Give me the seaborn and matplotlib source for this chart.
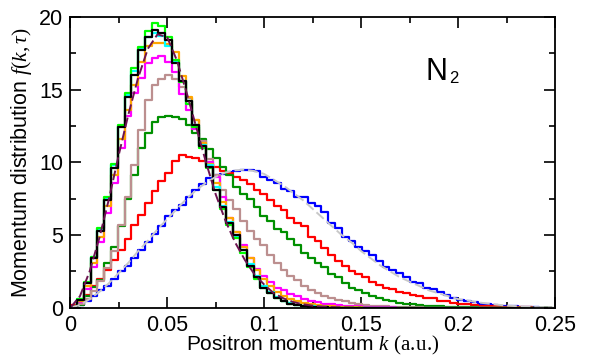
import numpy as np
import pandas as pd
import matplotlib
matplotlib.use("Agg")
import matplotlib.pyplot as plt
import seaborn as sns

# bin width of the momentum histograms (a.u.)
bin_width = 0.0035
n_bins = 71

# histogram heights per bin (trailing zeros omitted)
blue = [0.05, 0.2, 0.45, 0.8, 1.2, 1.5, 2.0, 2.5, 2.9, 3.4,
        4.0, 4.5, 5.1, 5.6, 6.3, 6.7, 7.1, 7.6, 8.1, 8.5,
        8.9, 9.1, 9.2, 9.35, 9.4, 9.5, 9.45, 9.4, 9.0, 8.8,
        8.6, 8.2, 8.0, 7.6, 7.6, 7.2, 7.0, 6.6, 5.8, 5.5,
        4.9, 4.6, 4.2, 3.9, 3.6, 3.2, 2.8, 2.6, 2.4, 2.1,
        1.8, 1.7, 1.4, 1.3, 1.1, 0.9, 0.7, 0.55, 0.45, 0.4,
        0.3, 0.3, 0.2, 0.15, 0.15, 0.1, 0.07, 0.05, 0.04, 0.02, 0.01]
red = [0.2, 0.5, 0.9, 1.5, 2.0, 2.6, 3.3, 4.0, 4.7, 5.7,
       6.4, 7.2, 8.0, 8.7, 9.3, 10.1, 10.5, 10.4, 10.3, 10.1,
       9.9, 9.7, 9.4, 9.3, 9.0, 8.8, 8.5, 8.1, 7.8, 7.4,
       7.0, 6.7, 6.2, 5.8, 5.6, 4.9, 4.6, 4.1, 3.6, 3.2,
       2.9, 2.5, 2.3, 2.1, 1.8, 1.6, 1.4, 1.3, 1.1, 1.0,
       0.9, 0.8, 0.7, 0.65, 0.5, 0.45, 0.35, 0.3, 0.25, 0.2,
       0.15, 0.12, 0.1, 0.08, 0.06, 0.05, 0.04, 0.03, 0.02, 0.01]
green = [0.05, 0.2, 0.8, 1.45, 1.9, 3.1, 4.2, 5.6, 7.5, 9.1,
         11.0, 12.0, 12.8, 13.1, 13.2, 13.1, 13.0, 12.6, 12.0, 11.6,
         10.9, 10.3, 9.7, 9.1, 8.3, 7.8, 7.5, 6.9, 6.3, 6.0,
         5.4, 5.2, 4.7, 4.3, 3.8, 3.4, 3.1, 2.8, 2.3, 2.1,
         1.7, 1.4, 1.2, 1.0, 0.8, 0.7, 0.55, 0.45, 0.35, 0.3,
         0.25, 0.2, 0.15, 0.12, 0.1, 0.08, 0.06, 0.05, 0.04, 0.03,
         0.02, 0.02, 0.01, 0.01]
brown = [0.05, 0.3, 0.6, 1.15, 1.85, 2.75, 3.9, 5.7, 7.6, 9.8,
         12.2, 14.3, 15.3, 15.7, 16.0, 15.7, 15.2, 14.4, 12.9, 11.5,
         10.2, 9.1, 8.1, 7.4, 6.8, 6.0, 5.3, 4.7, 4.3, 3.6,
         3.1, 2.6, 2.2, 1.9, 1.5, 1.2, 1.0, 0.8, 0.65, 0.55,
         0.45, 0.35, 0.3, 0.2, 0.15, 0.12, 0.1, 0.08, 0.06, 0.05,
         0.04, 0.03, 0.02, 0.02, 0.01]
magenta = [0.05, 0.4, 1.3, 2.8, 4.5, 6.5, 8.6, 11.0, 13.2, 14.8,
           15.8, 16.8, 17.2, 17.3, 16.9, 16.2, 14.7, 13.6, 12.3, 11.1,
           10.0, 9.0, 7.6, 6.2, 5.2, 4.3, 3.4, 2.7, 2.2, 1.8,
           1.4, 1.2, 0.95, 0.8, 0.6, 0.5, 0.4, 0.3, 0.25, 0.2,
           0.15, 0.12, 0.1, 0.08, 0.06, 0.05, 0.04, 0.03, 0.02, 0.01]
orange = [0.05, 0.5, 1.5, 3.1, 4.9, 7.0, 9.1, 11.6, 13.6, 15.3,
          16.9, 18.0, 18.2, 18.2, 18.1, 17.6, 15.9, 14.5, 12.9, 11.3,
          9.9, 8.6, 7.3, 6.2, 5.2, 4.2, 3.4, 2.6, 2.0, 1.5,
          1.1, 0.85, 0.6, 0.45, 0.35, 0.25, 0.18, 0.12, 0.1, 0.07,
          0.05, 0.04, 0.03, 0.02, 0.01]
cyan = [0.05, 0.6, 1.7, 3.5, 5.4, 7.5, 9.8, 12.5, 14.6, 16.3,
        17.8, 18.6, 18.9, 18.7, 18.0, 16.9, 15.6, 14.2, 12.6, 11.2,
        9.8, 8.3, 7.0, 5.9, 4.9, 4.0, 3.0, 2.2, 1.5, 1.1,
        0.75, 0.5, 0.35, 0.22, 0.15, 0.1, 0.06, 0.04, 0.02, 0.01]
lime = [0.05, 0.6, 1.8, 3.5, 5.5, 7.6, 9.9, 12.6, 14.8, 16.5,
        17.9, 19.0, 19.6, 19.4, 18.6, 17.0, 15.5, 14.0, 12.4, 11.0,
        9.6, 8.1, 6.8, 5.7, 4.8, 3.8, 2.8, 2.0, 1.4, 1.0,
        0.7, 0.45, 0.3, 0.2, 0.12, 0.08, 0.05, 0.03, 0.02, 0.01]
black = [0.05, 0.55, 1.7, 3.4, 5.3, 7.4, 9.6, 12.4, 14.5, 16.0,
         17.7, 18.6, 19.1, 18.9, 18.4, 16.8, 15.6, 14.2, 12.6, 11.1,
         9.7, 8.1, 6.9, 5.8, 5.0, 4.0, 2.9, 2.1, 1.4, 1.0,
         0.7, 0.45, 0.3, 0.2, 0.12, 0.08, 0.05, 0.03, 0.02, 0.01]

# smooth reference curves (dashed)
k_smooth = [0.0, 0.005, 0.01, 0.015, 0.02, 0.025, 0.03, 0.035, 0.04, 0.045,
            0.05, 0.055, 0.06, 0.065, 0.07, 0.075, 0.08, 0.085, 0.09, 0.095,
            0.1, 0.105, 0.11, 0.115, 0.12, 0.125, 0.13, 0.135, 0.14, 0.145,
            0.15, 0.155, 0.16, 0.165, 0.17, 0.175, 0.18, 0.185, 0.19, 0.195,
            0.2, 0.205, 0.21, 0.215, 0.22, 0.225, 0.23, 0.235, 0.24, 0.245, 0.25]
early_fit = [0.0, 0.2, 0.6, 1.1, 1.7, 2.4, 3.1, 3.9, 4.6, 5.4,
             6.1, 6.8, 7.5, 8.1, 8.6, 9.0, 9.3, 9.45, 9.5, 9.4,
             9.2, 8.8, 8.4, 7.9, 7.4, 6.8, 6.2, 5.6, 5.0, 4.5,
             3.9, 3.4, 2.9, 2.5, 2.1, 1.8, 1.5, 1.2, 1.0, 0.8,
             0.6, 0.5, 0.38, 0.3, 0.22, 0.16, 0.12, 0.08, 0.05, 0.03, 0.02]
late_fit = [0.0, 0.8, 2.5, 4.8, 7.5, 10.5, 13.3, 15.8, 17.8, 18.8,
            18.6, 17.0, 14.8, 12.4, 10.0, 7.8, 6.0, 4.5, 3.3, 2.3,
            1.6, 1.0, 0.65, 0.4, 0.25, 0.15, 0.08, 0.05, 0.03, 0.02,
            0.01]

series = [(blue, "#0000ff"), (red, "#ff0000"), (green, "#009000"),
          (brown, "#bc8f8f"), (magenta, "#ff00ff"), (orange, "#ffa500"),
          (cyan, "#00ffff"), (lime, "#00ff00"), (black, "#000000")]

sns.set_style("ticks")
plt.rcParams["font.family"] = ["Liberation Sans", "DejaVu Sans"]
plt.rcParams["mathtext.fontset"] = "custom"
plt.rcParams["mathtext.rm"] = "Liberation Serif"
plt.rcParams["mathtext.it"] = "Liberation Serif:italic"
for key in ["text.color", "axes.labelcolor", "xtick.color", "ytick.color"]:
    plt.rcParams[key] = "black"

centers = (np.arange(n_bins) + 0.5) * bin_width

fig = plt.figure(figsize=(5.9, 3.58), dpi=100)
ax = fig.add_axes([0.119, 0.140, 0.822, 0.813])

for vals, col in series:
    w = np.zeros(n_bins)
    w[:len(vals)] = vals
    df = pd.DataFrame({"k": centers, "f": w})
    sns.histplot(data=df, x="k", weights="f", binwidth=bin_width,
                 binrange=(0, n_bins * bin_width), element="step", fill=False,
                 color=col, linewidth=1.6, ax=ax)

sns.lineplot(x=k_smooth, y=early_fit, color="#c8c8c8", linewidth=1.4,
             linestyle=(0, (5, 2)), ax=ax)
sns.lineplot(x=k_smooth[:len(late_fit)], y=late_fit, color="#6e1452",
             linewidth=1.4, linestyle=(0, (5, 2)), ax=ax)

ax.set_xlim(0, 0.25)
ax.set_ylim(0, 20)
ax.set_xticks([0, 0.05, 0.1, 0.15, 0.2, 0.25])
ax.set_xticklabels(["0", "0.05", "0.1", "0.15", "0.2", "0.25"])
ax.set_xticks(np.arange(0.025, 0.25, 0.05), minor=True)
ax.set_yticks([0, 5, 10, 15, 20])
ax.set_yticks([2.5, 7.5, 12.5, 17.5], minor=True)
ax.tick_params(which="both", direction="in", top=True, right=True,
               width=1.2, labelsize=15.5, colors="black")
ax.tick_params(which="major", length=8, pad=5)
ax.tick_params(which="minor", length=4)
for s in ax.spines.values():
    s.set_linewidth(1.3)
    s.set_color("black")

ax.set_xlabel("Positron momentum $k$ $\\mathrm{(a.\\!u.\\!)}$", fontsize=15,
              labelpad=-1)
ax.set_ylabel("Momentum distribution $f(k,\\tau)$", fontsize=15.5, labelpad=4)

ax.text(0.183, 15.65, "N", fontsize=22, va="baseline")
ax.text(0.1955, 15.45, "2", fontsize=12, va="baseline")

fig.savefig("out.png", dpi=100)
